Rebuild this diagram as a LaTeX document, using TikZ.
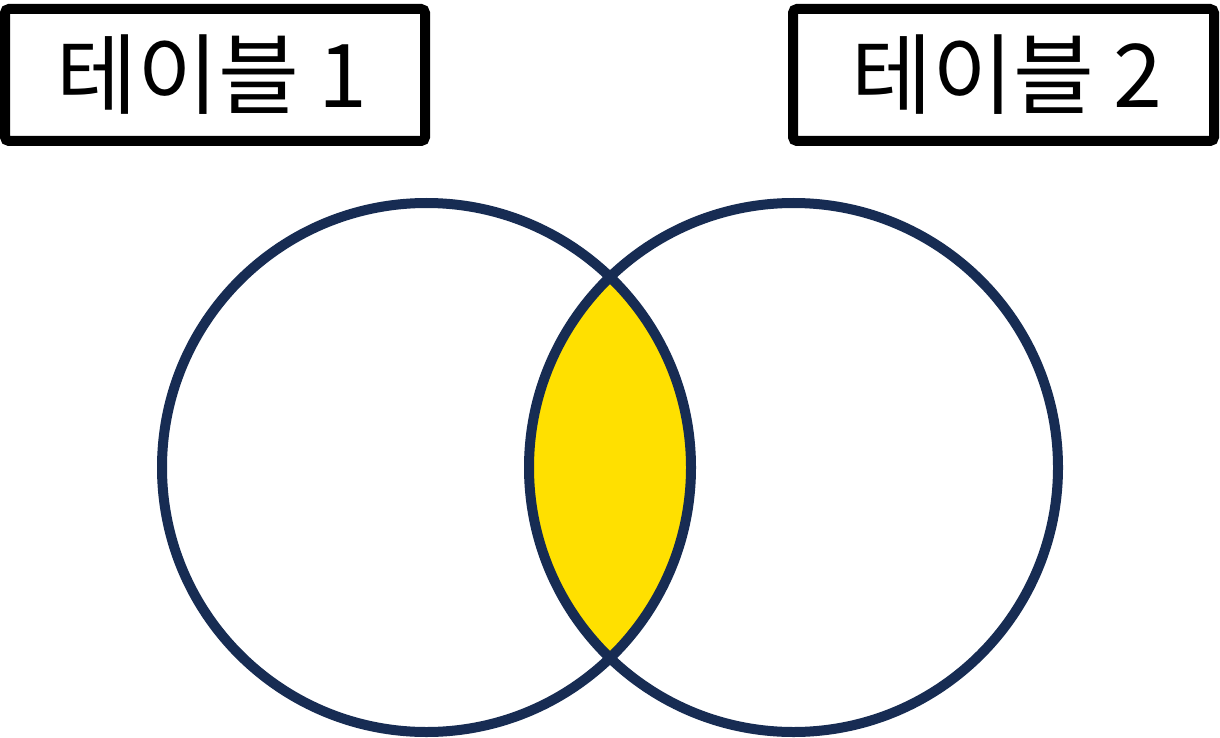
\documentclass[tikz,border=0pt]{standalone}
\usepackage{fontspec}
\newfontfamily\kr{Noto Sans CJK KR}
\definecolor{navy}{HTML}{172C53}
\definecolor{venny}{HTML}{FFE000}
\begin{document}
\begin{tikzpicture}[x=1pt,y=-1pt,
  tablebox/.style={draw=black,line width=10pt,rounded corners=4pt},
  tablelabel/.style={anchor=base,font=\kr\fontsize{88}{100}\selectfont,inner sep=0pt},
  setcircle/.style={draw=navy,line width=10pt}]
\useasboundingbox (0,0) rectangle (1220,738);
\fill[white] (0,0) rectangle (1220,738);
% boxes
\draw[tablebox] (5,9) rectangle (425,141);
\draw[tablebox] (793,9) rectangle (1214,141);
\node[tablelabel] (t1) at (212,108) {테이블 1};
\node[tablelabel] (t2) at (1007,108) {테이블 2};
% intersection fill
\begin{scope}
  \clip (426.5,467.5) circle[radius=264.5];
  \fill[venny] (793.5,467.5) circle[radius=264.5];
\end{scope}
\draw[setcircle] (426.5,467.5) circle[radius=264.5];
\draw[setcircle] (793.5,467.5) circle[radius=264.5];
\end{tikzpicture}
\end{document}
